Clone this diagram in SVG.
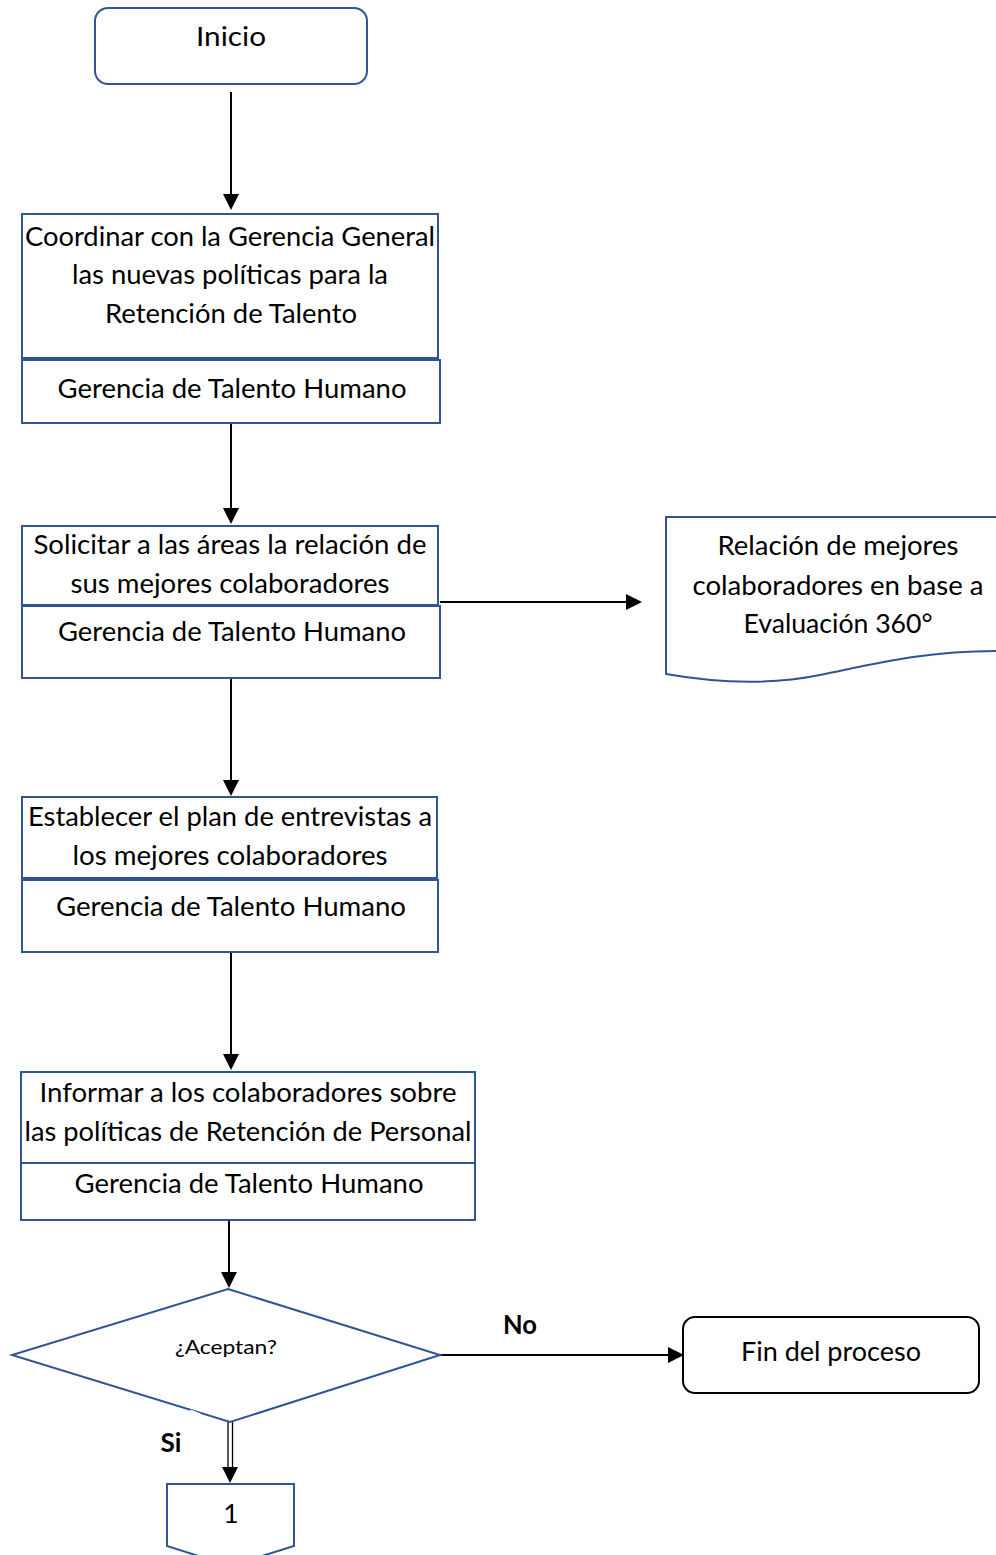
<svg xmlns="http://www.w3.org/2000/svg" width="996" height="1555" viewBox="0 0 996 1555">
<defs>
<style>
.b{fill:#fff;stroke:#2F5597;stroke-width:2}
.k{fill:#fff;stroke:#000;stroke-width:2}
.t{font-family:Lato,"Open Sans",sans-serif;font-size:26.5px;fill:#000;text-anchor:middle}
.bold{font-weight:bold}
.c{stroke:#000;stroke-width:2;fill:none}
</style>
</defs>
<rect width="996" height="1555" fill="#fff"/>
<g id="connectors">
<line class="c" x1="231" y1="92" x2="231" y2="194"/>
<path d="M223,194 L239,194 L231,210 z"/>
<line class="c" x1="231" y1="423" x2="231" y2="508"/>
<path d="M223,508 L239,508 L231,524 z"/>
<line class="c" x1="440" y1="602" x2="626" y2="602"/>
<path d="M626,594 L626,610 L642,602 z"/>
<line class="c" x1="231" y1="678" x2="231" y2="780"/>
<path d="M223,780 L239,780 L231,796 z"/>
<line class="c" x1="231" y1="952" x2="231" y2="1054"/>
<path d="M223,1054 L239,1054 L231,1070 z"/>
<line class="c" x1="229" y1="1218" x2="229" y2="1272"/>
<path d="M221,1272 L237,1272 L229,1288 z"/>
<line class="c" x1="440" y1="1355" x2="668" y2="1355"/>
<path d="M668,1347 L668,1363 L684,1355 z"/>
<line stroke="#000" stroke-width="1.3" x1="228" y1="1422" x2="228" y2="1468"/>
<line stroke="#000" stroke-width="1.3" x1="232.5" y1="1422" x2="232.5" y2="1468"/>
<path d="M222,1467 L238,1467 L230,1483 z"/>
<text class="t bold" x="520" y="1334" textLength="34" lengthAdjust="spacingAndGlyphs">No</text>
<text class="t bold" x="171" y="1452" textLength="21" lengthAdjust="spacingAndGlyphs">Si</text>
</g>
<g id="inicio">
<rect class="b" x="95" y="8" width="272" height="76" rx="13"/>
<text class="t" x="231" y="46" textLength="70" lengthAdjust="spacingAndGlyphs">Inicio</text>
</g>
<g id="paso1">
<rect class="b" x="22" y="214" width="416" height="144"/>
<rect class="b" x="22" y="360" width="418" height="63"/>
<text class="t" x="230" y="246" textLength="410" lengthAdjust="spacingAndGlyphs">Coordinar con la Gerencia General</text>
<text class="t" x="230" y="284" textLength="316" lengthAdjust="spacingAndGlyphs">las nuevas políticas para la</text>
<text class="t" x="231" y="323" textLength="252" lengthAdjust="spacingAndGlyphs">Retención de Talento</text>
<text class="t" x="232" y="398" textLength="349" lengthAdjust="spacingAndGlyphs">Gerencia de Talento Humano</text>
</g>
<g id="paso2">
<rect class="b" x="22" y="526" width="416" height="79"/>
<rect class="b" x="22" y="606" width="418" height="72"/>
<text class="t" x="230" y="554" textLength="393" lengthAdjust="spacingAndGlyphs">Solicitar a las áreas la relación de</text>
<text class="t" x="230" y="593" textLength="319" lengthAdjust="spacingAndGlyphs">sus mejores colaboradores</text>
<text class="t" x="232" y="641" textLength="348" lengthAdjust="spacingAndGlyphs">Gerencia de Talento Humano</text>
</g>
<g id="documento">
<path class="b" d="M666,517 L998,517 L998,651 C920,651 870,665 820,675 C760,687 700,680 666,674 Z"/>
<text class="t" x="838" y="555" textLength="241" lengthAdjust="spacingAndGlyphs">Relación de mejores</text>
<text class="t" x="838" y="595" textLength="291" lengthAdjust="spacingAndGlyphs">colaboradores en base a</text>
<text class="t" x="838" y="633" textLength="189" lengthAdjust="spacingAndGlyphs">Evaluación 360°</text>
</g>
<g id="paso3">
<rect class="b" x="22" y="797" width="415" height="81"/>
<rect class="b" x="22" y="880" width="416" height="72"/>
<text class="t" x="230" y="826" textLength="404" lengthAdjust="spacingAndGlyphs">Establecer el plan de entrevistas a</text>
<text class="t" x="230" y="865" textLength="315" lengthAdjust="spacingAndGlyphs">los mejores colaboradores</text>
<text class="t" x="231" y="916" textLength="350" lengthAdjust="spacingAndGlyphs">Gerencia de Talento Humano</text>
</g>
<g id="paso4">
<rect class="b" x="21" y="1072" width="454" height="91"/>
<rect class="b" x="21" y="1163" width="454" height="57"/>
<text class="t" x="248" y="1102" textLength="417" lengthAdjust="spacingAndGlyphs">Informar a los colaboradores sobre</text>
<text class="t" x="248" y="1141" textLength="447" lengthAdjust="spacingAndGlyphs">las políticas de Retención de Personal</text>
<text class="t" x="249" y="1193" textLength="349" lengthAdjust="spacingAndGlyphs">Gerencia de Talento Humano</text>
</g>
<g id="decision">
<path class="b" d="M228,1289 L440,1355 L230,1422 L12,1355 Z"/>
<line x1="190" y1="1411" x2="200" y2="1415" stroke="#fff" stroke-width="3"/>
<text class="t" x="226" y="1354" font-size="19" textLength="102" lengthAdjust="spacingAndGlyphs" style="font-size:19px">¿Aceptan?</text>
</g>
<g id="fin">
<rect class="k" x="683" y="1317" width="296" height="76" rx="12"/>
<text class="t" x="831" y="1361" textLength="180" lengthAdjust="spacingAndGlyphs">Fin del proceso</text>
</g>
<g id="conector1">
<path class="b" d="M167,1484 L294,1484 L294,1546 L230,1566 L167,1546 Z"/>
<text class="t" x="231" y="1523">1</text>
</g>
</svg>
